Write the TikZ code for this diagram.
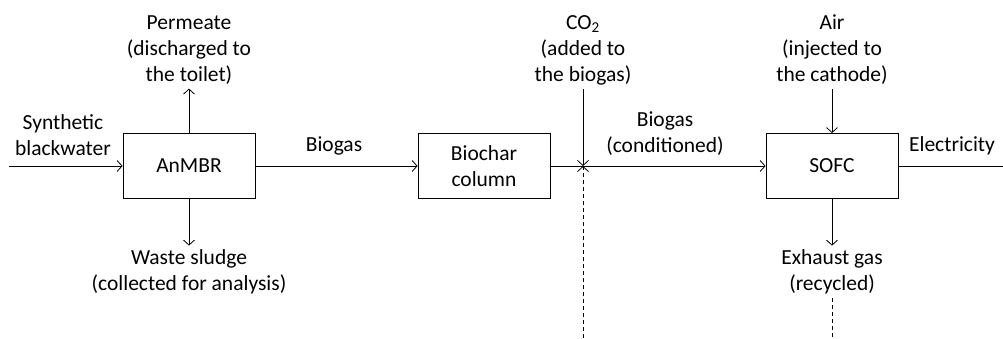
\documentclass[tikz,border=0pt]{standalone}
\usepackage{fontspec}
\setmainfont{Carlito}
\usetikzlibrary{arrows.meta}
\usetikzlibrary{positioning}
\tikzstyle{unit}=[draw=black, line width=0.8pt, minimum width=132pt, minimum height=65pt, align=center]
\tikzstyle{stream}=[align=center, inner sep=4pt]
\tikzstyle{flow}=[line width=0.8pt, -{Straight Barb[length=5pt,width=11pt]}]
\tikzstyle{recycle}=[flow, dashed, dash pattern=on 4pt off 3pt]

\begin{document}
\begin{tikzpicture}[x=1pt, y=1pt, font=\fontsize{21.5}{26}\selectfont]
\useasboundingbox (0,0) rectangle (1003,338);
\node[unit] (anmbr) at (189,172){AnMBR};
\node[unit] (biochar) at (484,172){Biochar\\column};
\node[unit] (sofc) at (832,172){SOFC};
\coordinate (feed) at (9,172);
\coordinate (mix) at (583,172);
\coordinate (power) at (1010,172);
\coordinate (loopin) at (583,0);
\coordinate (loopout) at (832,0);
\node[stream] (blackwater) at (63,203){Synthetic\\blackwater};
\node[stream] (permeate) at (189,288){Permeate\\(discharged to\\the toilet)};
\node[stream] (sludge) at (189,66){Waste sludge\\(collected for analysis)};
\node[stream] (biogas) at (334,192){Biogas};
\node[stream] (co2) at (583,288){CO\textsubscript{2}\\(added to\\the biogas)};
\node[stream] (conditioned) at (665,204){Biogas\\(conditioned)};
\node[stream] (air) at (832,288){Air\\(injected to\\the cathode)};
\node[stream] (exhaust) at (832,66){Exhaust gas\\(recycled)};
\node[stream] (electricity) at (952,192){Electricity};
\draw[flow](feed) -- (anmbr);
\draw[flow](anmbr) -- (permeate);
\draw[flow](anmbr) -- (sludge);
\draw[flow](anmbr) -- (biochar);
\draw[line width=0.8pt](biochar) -- (mix);
\draw[flow](co2) -- (mix);
\draw[recycle](loopin) -- (mix);
\draw[flow](mix) -- (sofc);
\draw[flow](air) -- (sofc);
\draw[flow](sofc) -- (exhaust);
\draw[flow](sofc) -- (power);
\draw[line width=0.8pt, dashed, dash pattern=on 4pt off 3pt](exhaust) -- (loopout);
\end{tikzpicture}
\end{document}
